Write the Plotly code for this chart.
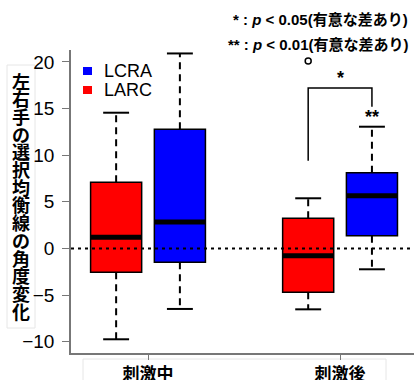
import plotly.graph_objects as go

# ---- data ----
groups = ["刺激中", "刺激後"]
group_pos = [1, 2]

larc_q1 = [-2.55, -4.69]
larc_med = [1.2, -0.77]
larc_q3 = [7.1, 3.24]
larc_low = [-9.73, -6.52]
larc_high = [14.55, 5.38]
larc_outliers_grp = [2]
larc_outliers_val = [20.1]

lcra_q1 = [-1.48, 1.37]
lcra_med = [2.84, 5.66]
lcra_q3 = [12.78, 8.12]
lcra_low = [-6.48, -2.23]
lcra_high = [20.9, 13.05]

bracket_low = 9.4
bracket_top = 17.2
bracket_right_low = 15.2

y_title = "左右手の選択均衡線の角度変化"

FONT = "Liberation Sans, Arial, Noto Sans CJK JP, sans-serif"
RED = "#FF0000"
BLUE = "#0000FF"

OFF = 0.166
BOXW = 0.266
CAPW = 0.135

# plot geometry in px (for paper conversions)
L, R, T, B = 71, 414, 50, 353


def px_x(px):
    return (px - L) / (R - L)


def px_y(py):
    return (B - py) / (B - T)


fig = go.Figure()


def add_series(name, color, off, q1, med, q3, low, high):
    xs = [p + off for p in group_pos]
    fig.add_trace(go.Bar(
        x=xs, y=[b - a for a, b in zip(q1, q3)], base=q1, width=BOXW,
        marker=dict(color=color, line=dict(color="black", width=1.5)),
        showlegend=False, name=name, hoverinfo="skip"))
    # medians
    mx, my = [], []
    for x, m in zip(xs, med):
        mx += [x - BOXW / 2, x + BOXW / 2, None]
        my += [m, m, None]
    fig.add_trace(go.Scatter(x=mx, y=my, mode="lines",
                             line=dict(color="black", width=5),
                             showlegend=False, hoverinfo="skip"))
    # whiskers
    wx, wy = [], []
    for x, a, b, lo, hi in zip(xs, q1, q3, low, high):
        wx += [x, x, None, x, x, None]
        wy += [b, hi, None, a, lo, None]
    fig.add_trace(go.Scatter(x=wx, y=wy, mode="lines",
                             line=dict(color="black", width=2, dash="7px,5px"),
                             showlegend=False, hoverinfo="skip"))
    # caps
    cx, cy = [], []
    for x, lo, hi in zip(xs, low, high):
        cx += [x - CAPW / 2, x + CAPW / 2, None, x - CAPW / 2, x + CAPW / 2, None]
        cy += [hi, hi, None, lo, lo, None]
    fig.add_trace(go.Scatter(x=cx, y=cy, mode="lines",
                             line=dict(color="black", width=2),
                             showlegend=False, hoverinfo="skip"))


add_series("LARC", RED, -OFF, larc_q1, larc_med, larc_q3, larc_low, larc_high)
add_series("LCRA", BLUE, OFF, lcra_q1, lcra_med, lcra_q3, lcra_low, lcra_high)

# outlier
fig.add_trace(go.Scatter(x=[g - OFF for g in larc_outliers_grp], y=larc_outliers_val,
                         mode="markers",
                         marker=dict(symbol="circle-open", size=6, color="black",
                                     line=dict(width=1.5)),
                         showlegend=False, hoverinfo="skip"))

# significance bracket
bx_l = group_pos[1] - OFF
bx_r = group_pos[1] + OFF
fig.add_trace(go.Scatter(x=[bx_l, bx_l, bx_r, bx_r],
                         y=[bracket_low, bracket_top, bracket_top, bracket_right_low],
                         mode="lines", line=dict(color="black", width=1.5),
                         showlegend=False, hoverinfo="skip"))

annotations = [
    dict(x=group_pos[1], y=bracket_top, xref="x", yref="y", text="<b>*</b>",
         showarrow=False, yanchor="bottom", yshift=-2,
         font=dict(size=18, family=FONT, color="black")),
    dict(x=bx_r, y=lcra_high[1], xref="x", yref="y", text="<b>**</b>",
         showarrow=False, yanchor="bottom", yshift=-2,
         font=dict(size=18, family=FONT, color="black")),
    dict(x=px_x(410), y=px_y(20), xref="paper", yref="paper", xanchor="right",
         yanchor="middle", showarrow=False,
         text="<b>* : <i>p</i> &lt; 0.05(有意な差あり)</b>",
         font=dict(size=15, family=FONT, color="black")),
    dict(x=px_x(410), y=px_y(45), xref="paper", yref="paper", xanchor="right",
         yanchor="middle", showarrow=False,
         text="<b>** : <i>p</i> &lt; 0.01(有意な差あり)</b>",
         font=dict(size=15, family=FONT, color="black")),
    dict(x=px_x(102), y=px_y(71), xref="paper", yref="paper", xanchor="left",
         yanchor="middle", showarrow=False, text="LCRA",
         font=dict(size=18, family=FONT, color="black")),
    dict(x=px_x(102), y=px_y(90), xref="paper", yref="paper", xanchor="left",
         yanchor="middle", showarrow=False, text="LARC",
         font=dict(size=18, family=FONT, color="black")),
]

# vertical stacked y title
pitch = 17.7
for i, ch in enumerate(y_title):
    annotations.append(dict(
        x=px_x(21), y=px_y(80.5 + i * pitch), xref="paper", yref="paper",
        xanchor="center", yanchor="middle", showarrow=False,
        text=f"<b>{ch}</b>",
        font=dict(size=18, family="Noto Sans CJK JP, sans-serif", color="black")))

shapes = [
    # zero reference line
    dict(type="line", xref="paper", yref="y", x0=0, x1=1, y0=0, y1=0,
         line=dict(color="black", width=2, dash="3px,4px")),
    # legend squares
    dict(type="rect", xref="paper", yref="paper", x0=px_x(83), x1=px_x(92),
         y0=px_y(75), y1=px_y(67), fillcolor=BLUE, line=dict(width=0)),
    dict(type="rect", xref="paper", yref="paper", x0=px_x(83), x1=px_x(92),
         y0=px_y(94), y1=px_y(86), fillcolor=RED, line=dict(width=0)),
    # faint label frames
    dict(type="rect", xref="paper", yref="paper", x0=px_x(7), x1=px_x(35),
         y0=px_y(328), y1=px_y(65), line=dict(color="#e6e6e6", width=1),
         layer="below"),
    dict(type="rect", xref="paper", yref="paper", x0=px_x(83), x1=px_x(386),
         y0=px_y(395), y1=px_y(359), line=dict(color="#e6e6e6", width=1),
         layer="below"),
]

fig.update_layout(
    width=414, height=380,
    margin=dict(l=L, r=414 - R, t=T, b=380 - B, autoexpand=False),
    paper_bgcolor="white", plot_bgcolor="white",
    barmode="overlay", showlegend=False,
    annotations=annotations, shapes=shapes,
    font=dict(family=FONT, color="black"),
    xaxis=dict(range=[0.599, 2.385], tickvals=group_pos,
               ticktext=[f"<b>{g}</b>" for g in groups],
               tickfont=dict(size=17, family="Noto Sans CJK JP, sans-serif"),
               ticks="outside", ticklen=5, tickcolor="#777", tickwidth=1,
               showline=True, linecolor="#777", linewidth=1.5, automargin=False,
               showgrid=False, zeroline=False, fixedrange=True),
    yaxis=dict(range=[-11.2, 21.27], tickvals=[-10, -5, 0, 5, 10, 15, 20],
               tickfont=dict(size=19, family=FONT),
               ticks="outside", ticklen=7, tickcolor="#777", tickwidth=1,
               ticklabelstandoff=4, automargin=False,
               showline=True, linecolor="#777", linewidth=1.5,
               showgrid=False, zeroline=False, fixedrange=True),
)

fig.write_html(
    "out.html",
    config={"displayModeBar": False},
    post_script="document.body.style.margin='0';document.body.style.overflow='hidden';",
)
